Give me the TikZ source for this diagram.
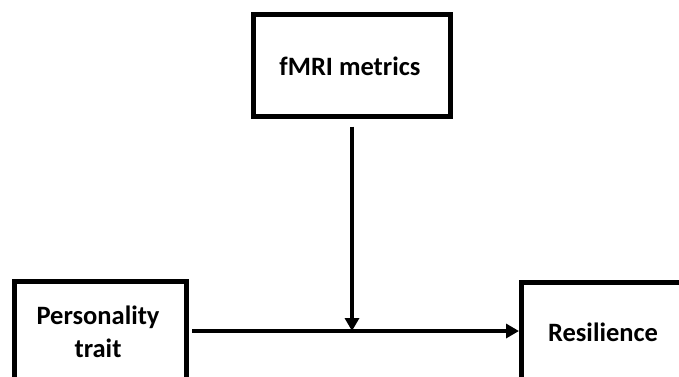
\documentclass[tikz,border=0pt]{standalone}
\usepackage{fontspec}
\setmainfont{Carlito}
\usetikzlibrary{arrows.meta}
\begin{document}
\begin{tikzpicture}[x=1pt,y=-1pt,
  box/.style={draw=black,line width=5pt,fill=none,inner sep=0pt},
  lbl/.style={font=\bfseries\fontsize{26.5}{33}\selectfont,align=center,inner sep=0pt},
  arr/.style={line width=3.4pt,-{Triangle[length=13pt,width=14pt]}}]
\useasboundingbox (0,0) rectangle (679,376);
\clip (0,0) rectangle (679,376);
\node[box,minimum width=197pt,minimum height=102pt] (fmri) at (351.5,65) {};
\node[lbl] (fmrit) at (350,66) {fMRI metrics};
\node[box,minimum width=172pt,minimum height=160pt,anchor=north west] (pers) at (12,279) {};
\node[lbl] (perst) at (98,332) {Personality\\trait};
\node[box,minimum width=200pt,minimum height=160pt,anchor=north west] (res) at (519,280) {};
\node[lbl] (rest) at (603,332) {Resilience};
\coordinate (mid) at (352,331);
\draw[arr,shorten <=3pt] (pers.east |- mid) -- (res.west |- mid);
\draw[arr,shorten <=8pt] (fmri.south -| mid) -- (mid);
\end{tikzpicture}
\end{document}
